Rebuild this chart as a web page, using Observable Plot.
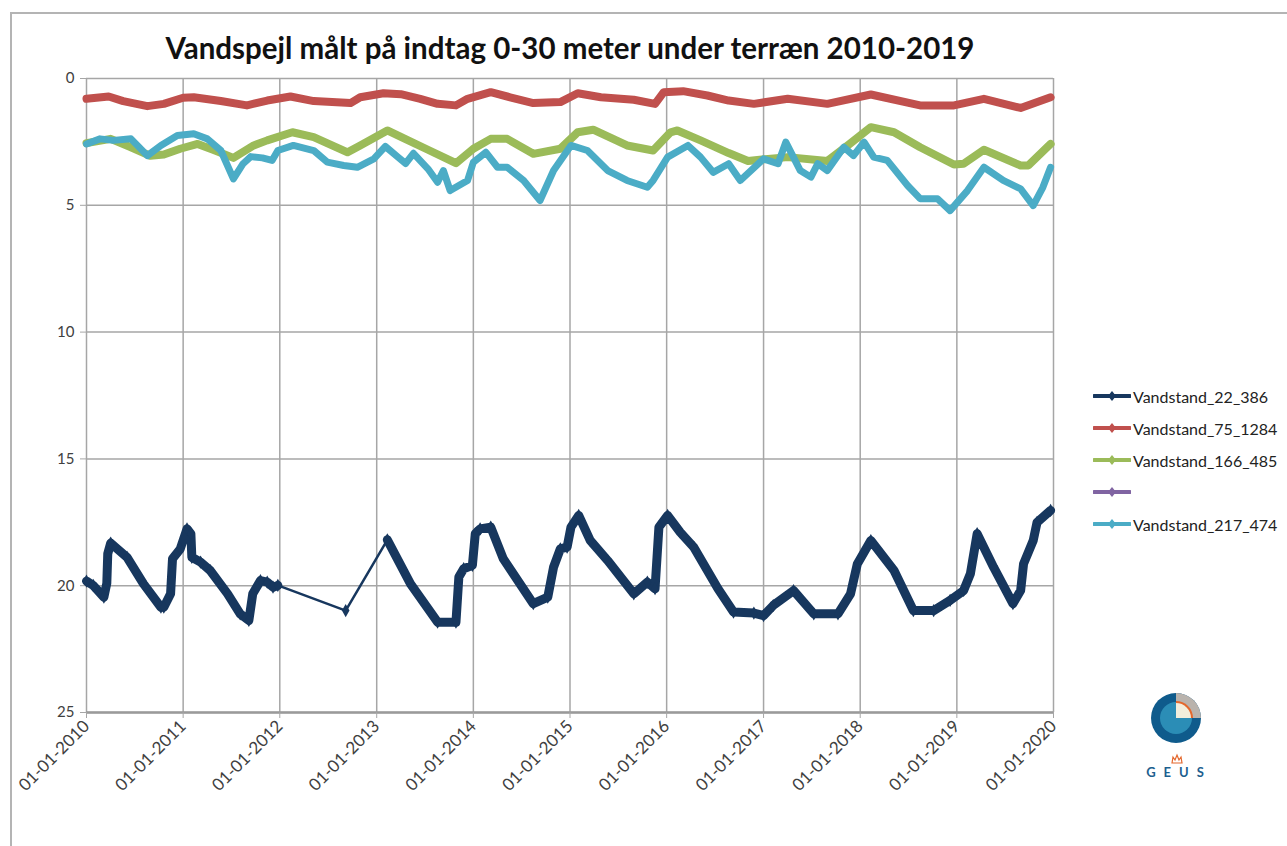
<!DOCTYPE html>
<html><head><meta charset="utf-8">
<script src="https://cdn.jsdelivr.net/npm/d3@7"></script>
<script src="https://cdn.jsdelivr.net/npm/@observablehq/plot@0.6"></script>
<style>
body{margin:0;background:#fff;}
#wrap{position:relative;width:1287px;height:846px;overflow:hidden;font-family:Lato,"Open Sans",sans-serif;background:#fff;}
#frame{position:absolute;left:10px;top:12px;width:1300px;height:900px;border-top:2px solid #b4b4b4;border-left:2px solid #b4b4b4;box-sizing:border-box;}
#chart{position:absolute;left:0;top:0;}
#legend{position:absolute;left:1093px;top:380px;}
.row{display:flex;align-items:center;height:32px;font-size:16px;color:#222;}
.row svg{margin-right:2px;}
#logo{position:absolute;left:1146px;top:690px;}
</style></head>
<body><div id="wrap"><div id="frame"></div><div id="chart"></div><div id="legend"></div>
<svg id="logo" width="66" height="92" viewBox="0 0 66 92">
  <circle cx="30" cy="28" r="25" fill="#0f5b8c"/>
  <path d="M30,28 L30,3 A25,25 0 0 1 55,28 Z" fill="#b9b3ad"/>
  <circle cx="30" cy="28" r="16" fill="#2b8db6"/>
  <path d="M30,28 L30,11 A17,17 0 0 1 47,28 Z" fill="#e4672c"/>
  <path d="M30,28 L30,13 A15,15 0 0 1 45,28 Z" fill="#f2eedc"/>
  <path d="M26,73 L27,67 L29,70 L31,65 L33,70 L35,67 L36,73 Z" fill="none" stroke="#e4672c" stroke-width="1.2"/>
  <text x="33" y="87" text-anchor="middle" font-family="Lato, sans-serif" font-weight="bold" font-size="13" fill="#1d5f8f" letter-spacing="8">GEUS</text>
</svg>
</div>
<script>
// ---- data (decimal year, metres below terrain) ----
const yearTicks = [2010,2011,2012,2013,2014,2015,2016,2017,2018,2019,2020];
const yTicks = [0,5,10,15,20,25];
const seriesNames = ["Vandstand_22_386","Vandstand_75_1284","Vandstand_166_485","","Vandstand_217_474"];
const seriesColors = ["#17375e","#c0504d","#9bbb59","#8064a2","#4bacc6"];

const navyA = [[2010.00,19.82],[2010.07,19.99],[2010.18,20.45],[2010.21,19.91],[2010.22,18.74],[2010.25,18.32],[2010.42,18.88],[2010.59,19.93],[2010.77,20.85],[2010.80,20.85],[2010.87,20.32],[2010.89,18.94],[2010.97,18.55],[2011.04,17.76],[2011.08,17.95],[2011.09,18.88],[2011.18,19.07],[2011.28,19.40],[2011.46,20.32],[2011.59,21.11],[2011.68,21.37],[2011.72,20.32],[2011.80,19.80],[2011.87,19.86],[2011.93,20.06],[2011.98,19.99]];
const navyLone = [[2012.68,20.98]];
const navyB = [[2013.11,18.19],[2013.35,19.93],[2013.63,21.44],[2013.82,21.44],[2013.85,19.66],[2013.90,19.33],[2013.99,19.20],[2014.02,17.95],[2014.07,17.76],[2014.18,17.69],[2014.31,18.94],[2014.62,20.71],[2014.77,20.45],[2014.83,19.27],[2014.90,18.55],[2014.97,18.48],[2015.01,17.69],[2015.09,17.23],[2015.21,18.22],[2015.39,19.01],[2015.66,20.32],[2015.80,19.86],[2015.88,20.12],[2015.92,17.69],[2016.01,17.23],[2016.14,17.89],[2016.28,18.48],[2016.53,20.12],[2016.69,21.04],[2016.90,21.08],[2017.00,21.18],[2017.10,20.78],[2017.31,20.19],[2017.52,21.11],[2017.77,21.11],[2017.90,20.32],[2017.97,19.14],[2018.11,18.22],[2018.35,19.40],[2018.55,20.98],[2018.76,20.98],[2018.93,20.58],[2019.07,20.19],[2019.14,19.53],[2019.21,17.95],[2019.38,19.27],[2019.58,20.71],[2019.66,20.19],[2019.69,19.14],[2019.79,18.22],[2019.83,17.50],[2019.97,17.03]];

const red = [[2010.00,0.80],[2010.23,0.71],[2010.38,0.89],[2010.63,1.09],[2010.80,1.00],[2011.00,0.76],[2011.11,0.74],[2011.39,0.89],[2011.66,1.06],[2011.87,0.87],[2012.11,0.71],[2012.35,0.89],[2012.73,0.97],[2012.83,0.74],[2013.07,0.58],[2013.25,0.62],[2013.45,0.80],[2013.63,1.00],[2013.82,1.06],[2013.94,0.80],[2014.18,0.54],[2014.38,0.74],[2014.62,0.97],[2014.90,0.93],[2015.08,0.58],[2015.32,0.74],[2015.66,0.84],[2015.88,1.00],[2015.97,0.54],[2016.17,0.50],[2016.42,0.67],[2016.64,0.87],[2016.90,1.00],[2017.25,0.80],[2017.66,1.00],[2018.11,0.63],[2018.62,1.06],[2018.97,1.06],[2019.28,0.80],[2019.66,1.16],[2019.97,0.74]];

const green = [[2010.00,2.55],[2010.25,2.38],[2010.46,2.71],[2010.66,3.05],[2010.80,3.00],[2010.97,2.77],[2011.15,2.58],[2011.31,2.81],[2011.52,3.13],[2011.73,2.64],[2011.87,2.44],[2012.13,2.12],[2012.35,2.31],[2012.70,2.91],[2012.83,2.64],[2013.11,2.05],[2013.25,2.30],[2013.53,2.81],[2013.82,3.34],[2014.00,2.77],[2014.18,2.38],[2014.35,2.38],[2014.62,2.97],[2014.90,2.77],[2015.08,2.12],[2015.24,2.02],[2015.59,2.64],[2015.86,2.84],[2016.04,2.12],[2016.11,2.05],[2016.35,2.44],[2016.64,2.94],[2016.84,3.25],[2017.25,3.10],[2017.66,3.25],[2017.87,2.64],[2018.11,1.92],[2018.35,2.12],[2018.62,2.71],[2018.97,3.39],[2019.07,3.36],[2019.28,2.81],[2019.66,3.43],[2019.74,3.43],[2019.97,2.58]];

const cyan = [[2010.00,2.58],[2010.14,2.38],[2010.28,2.44],[2010.46,2.38],[2010.63,3.04],[2010.77,2.64],[2010.94,2.25],[2011.11,2.18],[2011.25,2.38],[2011.39,2.84],[2011.52,3.96],[2011.62,3.36],[2011.70,3.08],[2011.82,3.13],[2011.92,3.23],[2011.98,2.84],[2012.14,2.64],[2012.35,2.84],[2012.49,3.30],[2012.66,3.43],[2012.80,3.50],[2012.97,3.17],[2013.09,2.68],[2013.22,3.10],[2013.30,3.35],[2013.38,2.95],[2013.53,3.56],[2013.63,4.09],[2013.69,3.63],[2013.76,4.42],[2013.94,4.02],[2014.00,3.30],[2014.13,2.91],[2014.25,3.50],[2014.35,3.50],[2014.52,4.02],[2014.69,4.81],[2014.83,3.63],[2015.01,2.64],[2015.18,2.84],[2015.39,3.63],[2015.59,4.02],[2015.80,4.29],[2015.86,4.02],[2016.01,3.10],[2016.22,2.64],[2016.35,3.10],[2016.48,3.70],[2016.64,3.36],[2016.76,4.02],[2017.00,3.17],[2017.15,3.36],[2017.23,2.51],[2017.38,3.63],[2017.49,3.89],[2017.56,3.36],[2017.66,3.63],[2017.83,2.71],[2017.93,3.04],[2018.04,2.51],[2018.14,3.10],[2018.28,3.23],[2018.49,4.22],[2018.62,4.74],[2018.80,4.74],[2018.93,5.21],[2019.11,4.42],[2019.28,3.50],[2019.48,4.02],[2019.66,4.35],[2019.79,5.01],[2019.89,4.29],[2019.97,3.50]];

// ---- helpers ----
function dec(t){const y=Math.floor(t);const a=Date.UTC(y,0,1),b=Date.UTC(y+1,0,1);return new Date(a+(t-y)*(b-a));}
const rows = (arr, seg) => arr.map(([t,v]) => ({date: dec(t), value: v, seg}));
const navyThick = [...rows(navyA,"a"), ...rows(navyB,"b")];
const navyAll = [...rows(navyA,"a"), ...rows(navyLone,"l"), ...rows(navyB,"b")];
const yearDates = yearTicks.map(y => new Date(Date.UTC(y,0,1)));
const gridC = "#a6a6a6";

const chart = Plot.plot({
  width: 1287, height: 846,
  marginLeft: 86, marginRight: 234, marginTop: 78, marginBottom: 134,
  style: {fontFamily: "Lato, 'Open Sans', sans-serif", fontSize: "14px", color: "#404040", background: "transparent"},
  x: {type: "utc", domain: [yearDates[0], yearDates[yearDates.length-1]]},
  y: {domain: [0, 25], reverse: true},
  marks: [
    Plot.ruleX(yearDates, {stroke: gridC, strokeWidth: 1.5}),
    Plot.ruleY(yTicks, {stroke: gridC, strokeWidth: 1.5}),
    Plot.ruleY([25], {stroke: "#9a9a9a", strokeWidth: 2.5}),
    Plot.axisY({ticks: yTicks, tickSize: 6, tickPadding: 6, fontSize: 15, label: null, stroke: gridC}),
    Plot.axisX({ticks: yearDates, tickFormat: d3.utcFormat("%d-%m-%Y"), tickRotate: -45, tickSize: 6, tickPadding: 5, fontSize: 17, label: null, stroke: gridC}),
    // series 1: navy
    Plot.line(navyAll, {x: "date", y: "value", stroke: seriesColors[0], strokeWidth: 2.5}),
    Plot.line(navyThick, {x: "date", y: "value", z: "seg", stroke: seriesColors[0], strokeWidth: 9, strokeLinejoin: "round", strokeLinecap: "round"}),
    Plot.dot(navyAll, {x: "date", y: "value", symbol: "diamond", r: 4, fill: seriesColors[0]}),
    // series 2: red
    Plot.line(rows(red), {x: "date", y: "value", stroke: seriesColors[1], strokeWidth: 8, strokeLinejoin: "round", strokeLinecap: "round"}),
    // series 3: green
    Plot.line(rows(green), {x: "date", y: "value", stroke: seriesColors[2], strokeWidth: 8, strokeLinejoin: "round", strokeLinecap: "round"}),
    // series 5: cyan
    Plot.line(rows(cyan), {x: "date", y: "value", stroke: seriesColors[4], strokeWidth: 7, strokeLinejoin: "round", strokeLinecap: "round"}),
    Plot.text(["Vandspejl målt på indtag 0-30 meter under terræn 2010-2019"], {frameAnchor: "top", dy: -40, fontSize: 29.5, fontWeight: "bold", fill: "#111"})
  ]
});
document.getElementById("chart").appendChild(chart);

// legend
const leg = document.getElementById("legend");
seriesNames.forEach((name, i) => {
  const r = document.createElement("div");
  r.className = "row";
  r.innerHTML = `<svg width="38" height="12"><line x1="1" y1="6" x2="37" y2="6" stroke="${seriesColors[i]}" stroke-width="4" stroke-linecap="round"/><path d="M19,1 L23,6 L19,11 L15,6 Z" fill="${seriesColors[i]}"/></svg><span>${name}</span>`;
  leg.appendChild(r);
});
</script>
</body></html>
